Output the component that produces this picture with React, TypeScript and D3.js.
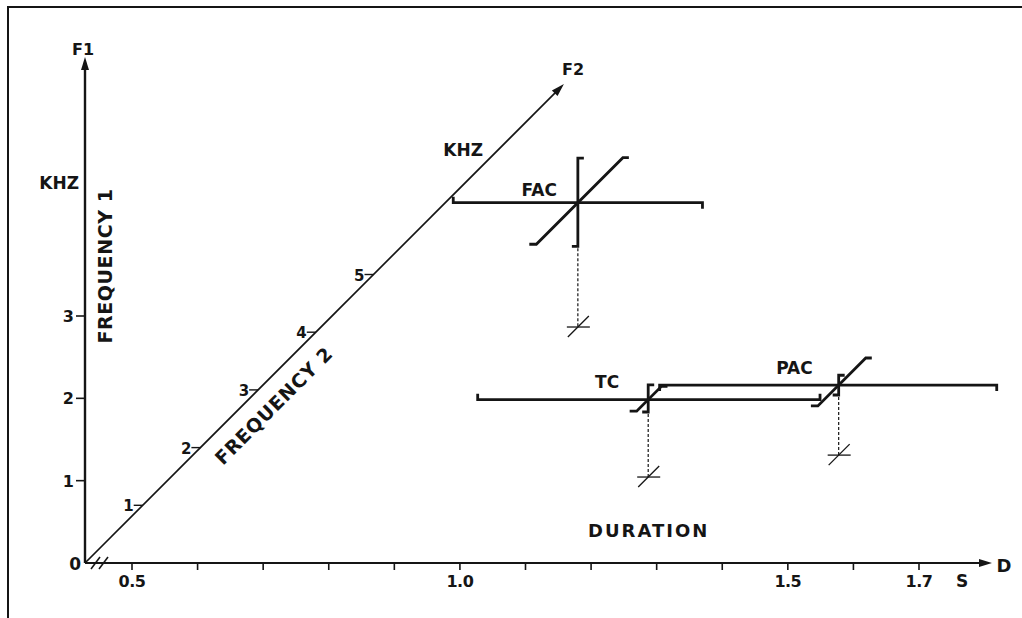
import React from "react";
import * as d3 from "d3";

// ---------- data ----------
const durationTicks = [0.5, 0.6, 0.7, 0.8, 0.9, 1.0, 1.1, 1.2, 1.3, 1.4, 1.5, 1.6, 1.7];
const durationLabelValues = [0.5, 1.0, 1.5, 1.7];
const durationLabels = ["0.5", "1.0", "1.5", "1.7"];
const f1Ticks = [1, 2, 3];
const f2Ticks = [1, 2, 3, 4, 5];

const sounds = ["FAC", "TC", "PAC"];
const durMid = [0.82, 1.156, 1.413];
const durMin = [0.63, 0.896, 1.14];
const durMax = [1.01, 1.418, 1.654];
const f1Mid = [1.51, 0.94, 0.85];
const f1Min = [0.98, 0.79, 0.73];
const f1Max = [2.05, 1.12, 0.97];
const f2Mid = [4.09, 1.49, 1.87];
const f2Min = [3.37, 1.29, 1.51];
const f2Max = [4.87, 1.72, 2.34];

// ---------- layout / style ----------
const W = 1022;
const H = 618;
const FONT = "'DejaVu Sans', Verdana, sans-serif";
const INK = "#151515";
const ORIGIN = { x: 85, y: 563 };
// direction of the small end caps on the duration bars (-1 up, +1 down)
const durCapLeft = [-1, -1, 1];
const durCapRight = [1, -1, 1];
// label offsets relative to each sound's centre (text-anchor end)
const labelOffset = [
  [-21, -7],
  [-29, -12],
  [-26, -11],
];

const xD = d3.scaleLinear().domain([0.5, 1.7]).range([132, 919]);
const yF1 = d3.scaleLinear().domain([0, 3]).range([ORIGIN.y, 316]);
const f2S = d3.scaleLinear().domain([0, 5]).range([0, 288.5]);

const proj = (d: number, f1: number, f2: number): [number, number] => [
  xD(d) + f2S(f2),
  yF1(f1) - f2S(f2),
];
const f2Axis = (k: number): [number, number] => [ORIGIN.x + f2S(k), ORIGIN.y - f2S(k)];

const arrowPath = (tx: number, ty: number, ux: number, uy: number, len = 13, hw = 4) => {
  const bx = tx - ux * len;
  const by = ty - uy * len;
  const px = -uy;
  const py = ux;
  return `M${tx},${ty}L${bx + px * hw},${by + py * hw}L${bx - px * hw},${by - py * hw}Z`;
};

const lineGen = d3.line();

export default function App() {
  const bold = { fontFamily: FONT, fontWeight: 700, fill: INK } as const;
  const f2End = 8.3;
  const [f2ex, f2ey] = f2Axis(f2End);
  const diag = Math.SQRT1_2;
  const fq2Anchor = f2Axis(3.0);
  const fq2x = fq2Anchor[0] + diag * 29;
  const fq2y = fq2Anchor[1] + diag * 29;
  const xAxisEnd = 992;
  const f1AxisTop = 57;

  return (
    <svg
      width={W}
      height={H}
      style={{ position: "absolute", left: 0, top: 0, background: "#fff" }}
    >
      <rect x={0} y={0} width={W} height={H} fill="#fff" />
      {/* frame */}
      <path d={`M8,${H}L8,7L${W},7`} fill="none" stroke={INK} strokeWidth={2} />

      {/* F1 axis */}
      <line x1={ORIGIN.x} y1={ORIGIN.y} x2={ORIGIN.x} y2={f1AxisTop + 10} stroke={INK} strokeWidth={2.4} />
      <path d={arrowPath(ORIGIN.x, f1AxisTop, 0, -1)} fill={INK} />
      <text x={83} y={55} textAnchor="middle" fontSize={16} {...bold}>F1</text>
      <text x={79} y={189} textAnchor="end" fontSize={17} {...bold}>KHZ</text>
      <text
        transform={`translate(112,266) rotate(-90)`}
        textAnchor="middle"
        fontSize={19}
        letterSpacing={0.6}
        {...bold}
      >
        FREQUENCY 1
      </text>
      {f1Ticks.map((t) => (
        <g key={"f1" + t}>
          <line x1={ORIGIN.x - 9} x2={ORIGIN.x} y1={yF1(t)} y2={yF1(t)} stroke={INK} strokeWidth={1.6} />
          <text x={ORIGIN.x - 11} y={yF1(t) + 6} textAnchor="end" fontSize={16} {...bold}>
            {t}
          </text>
        </g>
      ))}
      <text x={81} y={570} textAnchor="end" fontSize={17} {...bold}>0</text>

      {/* duration axis */}
      <line x1={ORIGIN.x} y1={ORIGIN.y} x2={xAxisEnd - 10} y2={ORIGIN.y} stroke={INK} strokeWidth={2.2} />
      <path d={arrowPath(xAxisEnd, ORIGIN.y, 1, 0)} fill={INK} />
      {durationTicks.map((t) => (
        <line key={"dt" + t} x1={xD(t)} x2={xD(t)} y1={ORIGIN.y} y2={ORIGIN.y + 7} stroke={INK} strokeWidth={1.6} />
      ))}
      {durationLabelValues.map((v, i) => (
        <text key={"dl" + v} x={xD(v)} y={587} textAnchor="middle" fontSize={16} letterSpacing={-0.5} {...bold}>
          {durationLabels[i]}
        </text>
      ))}
      <text x={962} y={587} textAnchor="middle" fontSize={17} {...bold}>S</text>
      <text x={1004} y={572} textAnchor="middle" fontSize={18} {...bold}>D</text>
      <text x={588} y={537} fontSize={18} letterSpacing={2} {...bold}>DURATION</text>
      {/* axis break */}
      {[91, 99].map((bx) => (
        <line key={"br" + bx} x1={bx} y1={569} x2={bx + 9} y2={557} stroke={INK} strokeWidth={1.6} />
      ))}

      {/* F2 axis */}
      <line x1={ORIGIN.x} y1={ORIGIN.y} x2={f2ex - diag * 10} y2={f2ey + diag * 10} stroke={INK} strokeWidth={1.7} />
      <path d={arrowPath(f2ex, f2ey, diag, -diag, 13, 4)} fill={INK} />
      <text x={573} y={75} textAnchor="middle" fontSize={16} {...bold}>F2</text>
      <text x={483} y={156} textAnchor="end" fontSize={17} {...bold}>KHZ</text>
      {f2Ticks.map((t) => {
        const [px, py] = f2Axis(t);
        return (
          <g key={"f2" + t}>
            <line x1={px - 9} x2={px} y1={py} y2={py} stroke={INK} strokeWidth={1.4} />
            <text x={px - 9} y={py + 6} textAnchor="end" fontSize={15} {...bold}>
              {t}
            </text>
          </g>
        );
      })}
      <text
        transform={`translate(${fq2x},${fq2y}) rotate(-45)`}
        textAnchor="middle"
        fontSize={19}
        letterSpacing={0.8}
        {...bold}
      >
        FREQUENCY 2
      </text>

      {/* sounds */}
      {sounds.map((name, i) => {
        const [cx, cy] = proj(durMid[i], f1Mid[i], f2Mid[i]);
        const dA = proj(durMin[i], f1Mid[i], f2Mid[i]);
        const dB = proj(durMax[i], f1Mid[i], f2Mid[i]);
        const fLo = proj(durMid[i], f1Min[i], f2Mid[i]);
        const fHi = proj(durMid[i], f1Max[i], f2Mid[i]);
        const gLo = proj(durMid[i], f1Mid[i], f2Min[i]);
        const gHi = proj(durMid[i], f1Mid[i], f2Max[i]);
        const foot = proj(durMid[i], 0, f2Mid[i]);
        const cap = 6;
        const thick = 2.8;
        return (
          <g key={name}>
            {/* duration bar */}
            <path
              d={
                lineGen([
                  [dA[0], dA[1] + durCapLeft[i] * cap],
                  dA,
                  dB,
                  [dB[0], dB[1] + durCapRight[i] * cap],
                ]) || ""
              }
              fill="none"
              stroke={INK}
              strokeWidth={thick}
            />
            {/* F1 bar */}
            <path
              d={
                lineGen([
                  [fHi[0] + cap, fHi[1]],
                  fHi,
                  fLo,
                  [fLo[0] - cap, fLo[1]],
                ]) || ""
              }
              fill="none"
              stroke={INK}
              strokeWidth={thick}
            />
            {/* F2 bar */}
            <path
              d={
                lineGen([
                  [gLo[0] - cap - 1, gLo[1]],
                  gLo,
                  gHi,
                  [gHi[0] + cap, gHi[1]],
                ]) || ""
              }
              fill="none"
              stroke={INK}
              strokeWidth={thick}
            />
            {/* drop line to floor */}
            <line
              x1={fLo[0]}
              y1={fLo[1] + 2}
              x2={foot[0]}
              y2={foot[1]}
              stroke={INK}
              strokeWidth={1.2}
              strokeDasharray="3 2"
            />
            <line x1={foot[0] - 11} x2={foot[0] + 12} y1={foot[1]} y2={foot[1]} stroke={INK} strokeWidth={1.3} />
            <line
              x1={foot[0] - 10}
              y1={foot[1] + 10}
              x2={foot[0] + 11}
              y2={foot[1] - 11}
              stroke={INK}
              strokeWidth={1.3}
            />
            <text
              x={cx + labelOffset[i][0]}
              y={cy + labelOffset[i][1]}
              textAnchor="end"
              fontSize={17}
              {...bold}
            >
              {name}
            </text>
          </g>
        );
      })}
    </svg>
  );
}
